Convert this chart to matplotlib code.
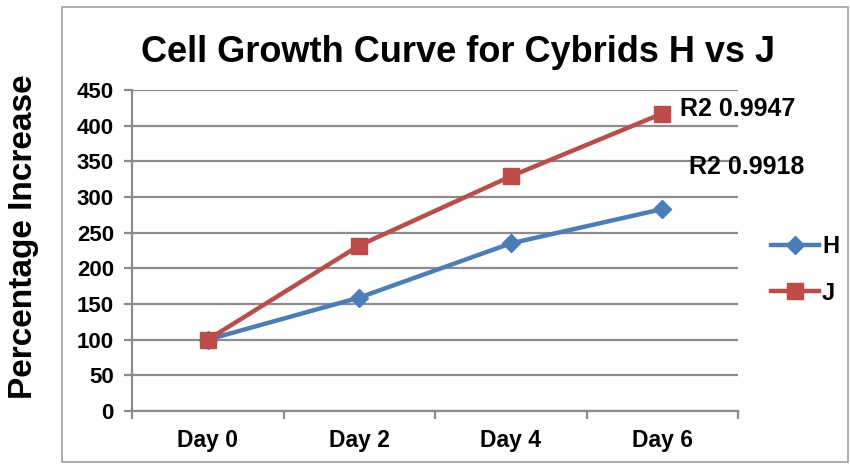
import matplotlib.pyplot as plt
from matplotlib.patches import Rectangle

plt.rcParams["font.family"] = ["Liberation Sans", "DejaVu Sans"]
plt.rcParams["font.weight"] = "bold"

# Data
days = ["Day 0", "Day 2", "Day 4", "Day 6"]
h_values = [100, 159, 235, 283]
j_values = [100, 232, 329, 417]
r2_labels = ["R2 0.9918", "R2 0.9947"]

blue = "#4a7ebb"
red = "#be4b48"
grid_grey = "#8c8c8c"

fig = plt.figure(figsize=(8.5, 4.65), dpi=100)

# Outer chart border (Excel style)
fig.patches.append(
    Rectangle((62 / 850, 3 / 465), 786 / 850, 455 / 465, transform=fig.transFigure,
              fill=False, edgecolor="#a0a0a0", linewidth=1.2)
)

ax = fig.add_axes([132 / 850, 54 / 465, 606 / 850, 321 / 465])
x = list(range(len(days)))

ax.plot(x, h_values, color=blue, linewidth=3.2, marker="D", markersize=9, label="H", zorder=3)
ax.plot(x, j_values, color=red, linewidth=3.2, marker="s", markersize=11, label="J", zorder=4)

ax.set_xlim(-0.5, 3.5)
ax.set_ylim(0, 450)
ax.set_yticks(range(0, 451, 50))
ax.yaxis.grid(True, color=grid_grey, linewidth=1.6)
ax.set_axisbelow(True)

ax.set_xticks(x)
ax.set_xticklabels(days, fontsize=16.5, fontweight="bold")
ax.set_xticks([-0.5, 0.5, 1.5, 2.5, 3.5], minor=True)
ax.tick_params(axis="x", which="major", length=0, pad=13)
ax.tick_params(axis="x", which="minor", length=6, width=1.6, color=grid_grey, direction="out")
ax.tick_params(axis="y", length=6, width=1.6, color=grid_grey, direction="out", labelsize=16, pad=7)
for lab in ax.get_yticklabels():
    lab.set_fontweight("bold")

for side in ["top", "right"]:
    ax.spines[side].set_visible(False)
ax.spines["left"].set_color(grid_grey)
ax.spines["left"].set_linewidth(1.6)
ax.spines["bottom"].set_color(grid_grey)
ax.spines["bottom"].set_linewidth(1.6)

# R2 annotations
ax.annotate(r2_labels[1], (3, j_values[3]), xytext=(13, 3), textcoords="offset points",
            fontsize=18, fontweight="bold", ha="left", va="center")
ax.annotate(r2_labels[0], (3, h_values[3]), xytext=(19, 30), textcoords="offset points",
            fontsize=18, fontweight="bold", ha="left", va="center")

fig.text(458 / 850, 1 - 52 / 465, "Cell Growth Curve for Cybrids H vs J",
         fontsize=26, fontweight="bold", ha="center", va="center")
fig.text(24 / 850, 1 - 237 / 465, "Percentage Increase", fontsize=24, fontweight="bold",
         rotation=90, ha="center", va="center")

ax.legend(loc="center left", bbox_to_anchor=(1.02, 0.44), frameon=False,
          handlelength=2.0, labelspacing=1.0, handletextpad=0.15,
          prop={"weight": "bold", "size": 17})

fig.savefig("out.png", dpi=100)
